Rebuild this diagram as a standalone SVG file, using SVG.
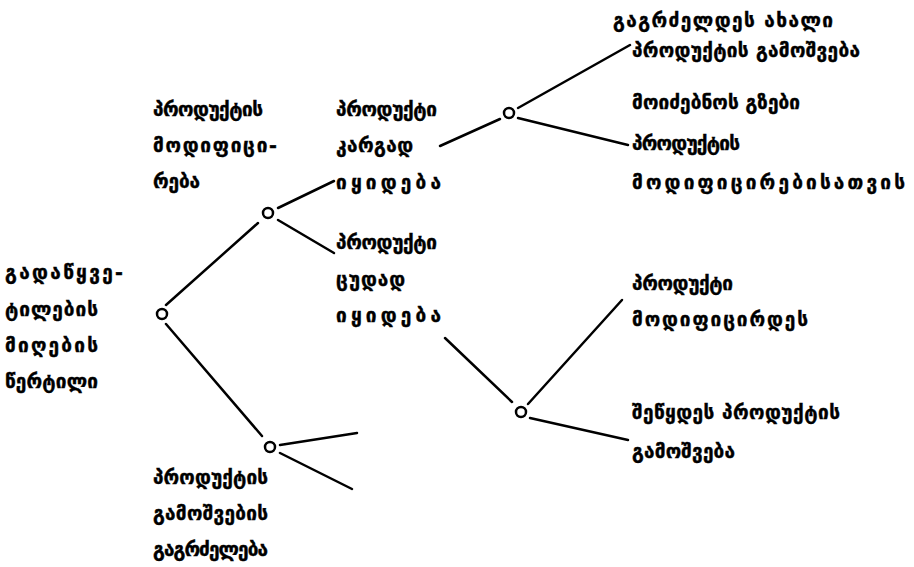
<svg xmlns="http://www.w3.org/2000/svg" width="914" height="567" viewBox="0 0 914 567">
<style>
text{font-family:"DejaVu Sans","Noto Sans",sans-serif;font-weight:bold;font-size:19px;fill:#000;stroke:#000;stroke-width:0.4}
.n{fill:none;stroke:#000;stroke-width:2.5}
.c line{stroke:#000;stroke-width:2.5;stroke-linecap:round}
</style>
<rect width="914" height="567" fill="#fff"/>
<g class="c" id="connectors">
<line x1="166" y1="305" x2="258" y2="223"/>
<line x1="166" y1="324" x2="262" y2="436"/>
<line x1="278" y1="208" x2="334" y2="181"/>
<line x1="278" y1="220" x2="334" y2="253"/>
<line x1="440" y1="146" x2="500" y2="119"/>
<line x1="518" y1="108" x2="630" y2="45"/>
<line x1="518" y1="118" x2="628" y2="145"/>
<line x1="445" y1="338" x2="512" y2="402"/>
<line x1="528" y1="404" x2="622" y2="300"/>
<line x1="530" y1="418" x2="628" y2="440"/>
<line x1="280" y1="445" x2="357" y2="433"/>
<line x1="280" y1="453" x2="352" y2="489"/>
</g>
<g id="root"><circle class="n" cx="162" cy="314" r="5"/>
<text x="5" y="279" textLength="118" lengthAdjust="spacing">გადაწყვე-</text><text x="5" y="316" textLength="93" lengthAdjust="spacing">ტილების</text><text x="5" y="352" textLength="93" lengthAdjust="spacing">მიღების</text><text x="5" y="388" textLength="93" lengthAdjust="spacing">წერტილი</text></g>
<g id="n-modify"><text x="153" y="116" textLength="110" lengthAdjust="spacing">პროდუქტის</text><text x="153" y="152" textLength="124" lengthAdjust="spacing">მოდიფიცი-</text><text x="153" y="188" textLength="47" lengthAdjust="spacing">რება</text></g>
<g id="node-a"><circle class="n" cx="268" cy="213" r="5"/></g>
<g id="n-good"><text x="336" y="116" textLength="101" lengthAdjust="spacing">პროდუქტი</text><text x="336" y="152" textLength="77" lengthAdjust="spacing">კარგად</text><text x="336" y="189" textLength="105" lengthAdjust="spacing">იყიდება</text></g>
<g id="n-bad"><text x="336" y="249" textLength="101" lengthAdjust="spacing">პროდუქტი</text><text x="336" y="286" textLength="69" lengthAdjust="spacing">ცუდად</text><text x="336" y="322" textLength="105" lengthAdjust="spacing">იყიდება</text></g>
<g id="node-b"><circle class="n" cx="509" cy="113" r="5"/></g>
<g id="node-c"><circle class="n" cx="521" cy="412" r="5"/></g>
<g id="node-d"><circle class="n" cx="270" cy="447" r="5"/></g>
<g id="o1"><text x="613" y="27" textLength="220" lengthAdjust="spacing">გაგრძელდეს ახალი</text><text x="632" y="57" textLength="228" lengthAdjust="spacing">პროდუქტის გამოშვება</text></g>
<g id="o2"><text x="632" y="109" textLength="168" lengthAdjust="spacing">მოიძებნოს გზები</text><text x="632" y="150" textLength="108" lengthAdjust="spacing">პროდუქტის</text><text x="632" y="189" textLength="273" lengthAdjust="spacing">მოდიფიცირებისათვის</text></g>
<g id="o3"><text x="632" y="290" textLength="101" lengthAdjust="spacing">პროდუქტი</text><text x="632" y="326" textLength="176" lengthAdjust="spacing">მოდიფიცირდეს</text></g>
<g id="o4"><text x="632" y="419" textLength="208" lengthAdjust="spacing">შეწყდეს პროდუქტის</text><text x="632" y="458" textLength="103" lengthAdjust="spacing">გამოშვება</text></g>
<g id="n-continue"><text x="153" y="484" textLength="115" lengthAdjust="spacing">პროდუქტის</text><text x="153" y="520" textLength="115" lengthAdjust="spacing">გამოშვების</text><text x="153" y="556" textLength="115" lengthAdjust="spacing">გაგრძელება</text></g>
</svg>
